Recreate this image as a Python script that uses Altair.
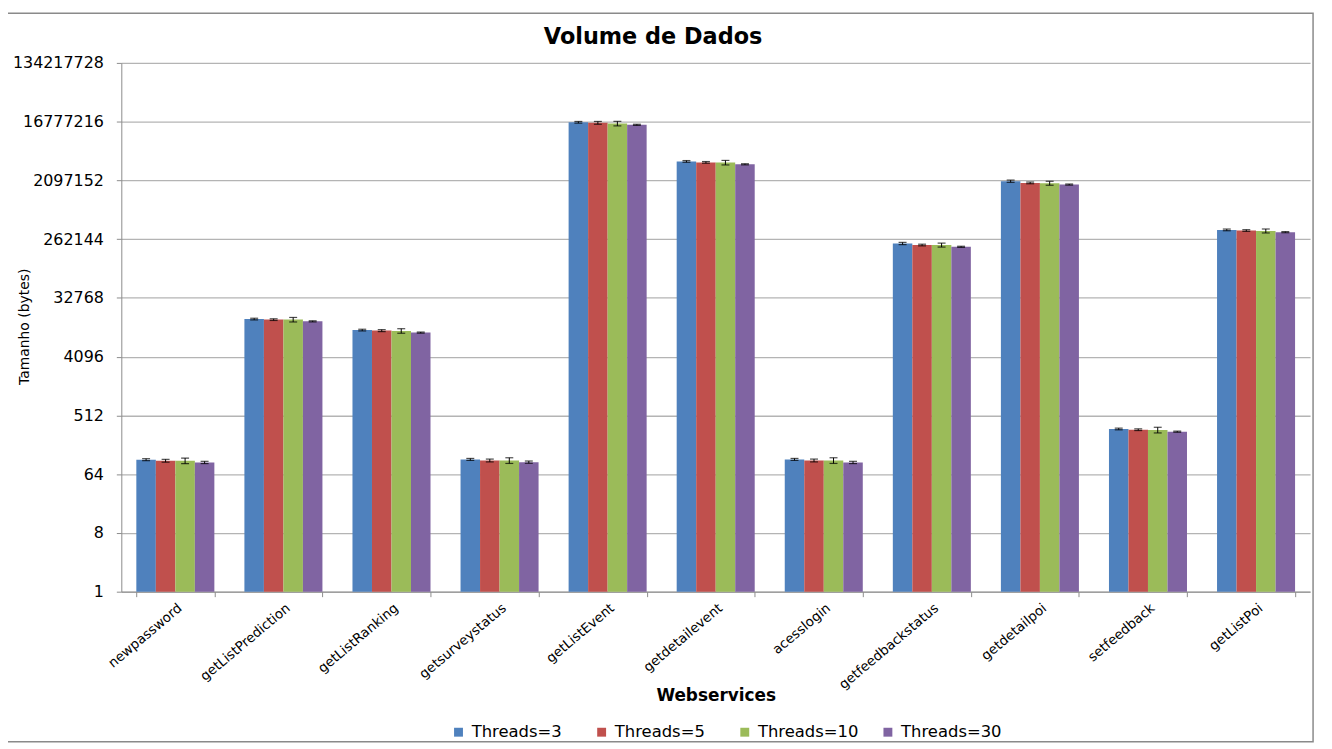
import altair as alt
import pandas as pd

categories = ["newpassword", "getListPrediction", "getListRanking", "getsurveystatus",
              "getListEvent", "getdetailevent", "acesslogin", "getfeedbackstatus",
              "getdetailpoi", "setfeedback", "getListPoi"]
series = ["Threads=3", "Threads=5", "Threads=10", "Threads=30"]
colors = ["#4F81BD", "#C0504D", "#9BBB59", "#8064A2"]

threads3 = [107, 15500, 10500, 108, 16400000, 4110000, 108, 225000, 2040000, 317, 364000]
threads5 = [103, 15200, 10300, 104, 16100000, 3970000, 104, 213000, 1920000, 309, 356000]
threads10 = [103, 15200, 10200, 104, 15700000, 3940000, 104, 213000, 1900000, 306, 351000]
threads30 = [97, 14300, 9600, 98, 15000000, 3710000, 97, 200000, 1810000, 288, 336000]

# relative half-width of the error bars, per series
err3 = [0.035, 0.03, 0.03, 0.035, 0.03, 0.03, 0.035, 0.04, 0.04, 0.03, 0.03]
err5 = [0.05, 0.03, 0.035, 0.05, 0.05, 0.03, 0.05, 0.03, 0.03, 0.03, 0.03]
err10 = [0.10, 0.08, 0.08, 0.10, 0.08, 0.08, 0.10, 0.07, 0.07, 0.10, 0.07]
err30 = [0.04, 0.02, 0.02, 0.04, 0.02, 0.02, 0.04, 0.02, 0.02, 0.02, 0.02]

y_ticks = [1, 8, 64, 512, 4096, 32768, 262144, 2097152, 16777216, 134217728]

rows = []
for s, vals, errs in zip(series, [threads3, threads5, threads10, threads30],
                         [err3, err5, err10, err30]):
    for c, v, e in zip(categories, vals, errs):
        rows.append({"cat": c, "series": s, "value": v,
                     "lo": v * (1 - e), "hi": v * (1 + e)})
df = pd.DataFrame(rows)

FONT = "DejaVu Sans"

x_enc = alt.X("cat:N", sort=categories,
              scale=alt.Scale(paddingInner=0.278, paddingOuter=0.139),
              axis=alt.Axis(title="Webservices", labelAngle=-40, labelFontSize=13.5,
                            labelColor="black", labelPadding=4, tickBand="extent",
                            tickSize=5, tickColor="#8c8c8c", domainColor="#8c8c8c",
                            titleFontSize=17, titleFontWeight="bold", titleColor="black",
                            titleX=598, titleY=104, titleBaseline="middle",
                            titleAlign="center", grid=False))
xoff = alt.XOffset("series:N", sort=series, scale=alt.Scale(paddingInner=0, paddingOuter=0))
y_scale = alt.Scale(type="log", base=2, domain=[1, 134217728], nice=False)

bars = alt.Chart(df).mark_bar().encode(
    x=x_enc,
    xOffset=xoff,
    y=alt.Y("value:Q", scale=y_scale,
            axis=alt.Axis(title="Tamanho (bytes)", values=y_ticks, format="d",
                          labelFontSize=16, labelColor="black", labelPadding=13,
                          tickSize=5, tickColor="#8c8c8c", domainColor="#8c8c8c",
                          gridColor="#b4b4b4", gridWidth=1.3,
                          titleFontSize=14, titleFontWeight="normal", titleColor="black",
                          titleX=-97, titleY=265, titleAngle=-90,
                          titleAlign="center", titleBaseline="middle")),
    y2=alt.datum(1),
    color=alt.Color("series:N", sort=series,
                    scale=alt.Scale(domain=series, range=colors),
                    legend=alt.Legend(title=None, orient="none", legendX=331, legendY=665,
                                      direction="horizontal", columns=4, gridAlign="all",
                                      columnPadding=21, symbolType="square",
                                      symbolSize=80, symbolStrokeWidth=0,
                                      labelFontSize=16.5, labelColor="black",
                                      labelOffset=5, labelLimit=200)),
)

err_rule = alt.Chart(df).mark_rule(color="black", strokeWidth=1).encode(
    x=alt.X("cat:N", sort=categories), xOffset=xoff,
    y=alt.Y("lo:Q", scale=y_scale), y2="hi:Q")

cap_lo = alt.Chart(df).mark_tick(color="black", thickness=1.2, size=8).encode(
    x=alt.X("cat:N", sort=categories), xOffset=xoff,
    y=alt.Y("lo:Q", scale=y_scale))
cap_hi = alt.Chart(df).mark_tick(color="black", thickness=1.2, size=8).encode(
    x=alt.X("cat:N", sort=categories), xOffset=xoff,
    y=alt.Y("hi:Q", scale=y_scale))

frame = alt.Chart(alt.Data(values=[{}])).mark_rect(
    fill=None, stroke="#8a8a8a", strokeWidth=1.5).encode(
    x=alt.value(-118), x2=alt.value(1199), y=alt.value(-50), y2=alt.value(683))

chart = alt.layer(bars, err_rule, cap_lo, cap_hi, frame).properties(
    width=1196, height=532,
    title=alt.TitleParams("Volume de Dados", fontSize=22.5, fontWeight="bold",
                          color="black", anchor="middle", frame="group",
                          dx=-63, offset=-36),
    autosize=alt.AutoSizeParams(type="none"),
    padding={"left": 114, "top": 53, "right": 14, "bottom": 150},
).configure(font=FONT).configure_view(stroke=None).configure_axis(
    labelFont=FONT, titleFont=FONT)

chart.save("out.html", embed_options={"renderer": "svg", "actions": False})
